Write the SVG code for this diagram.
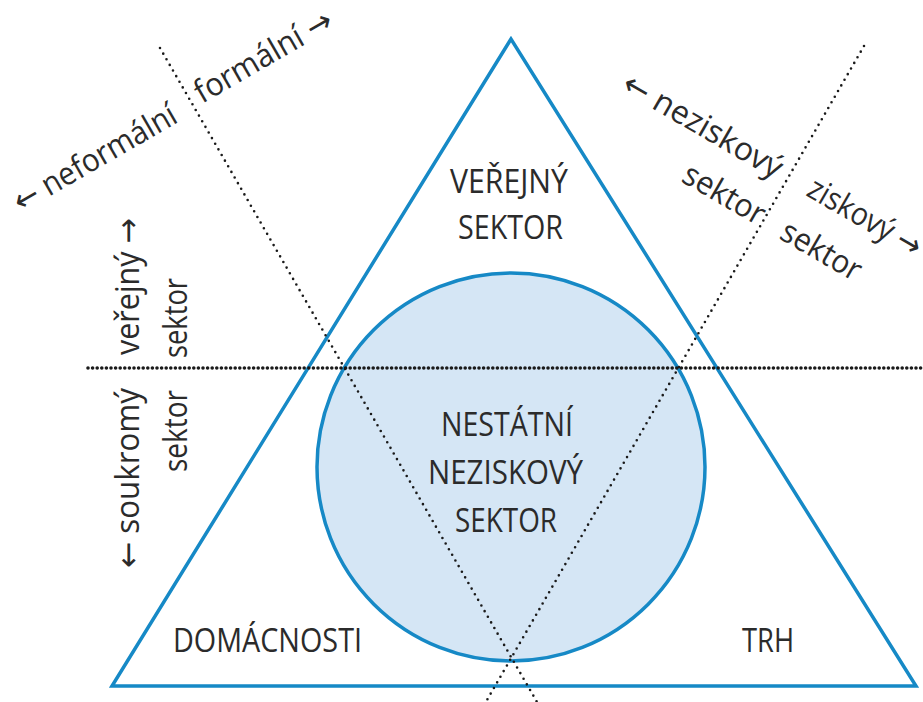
<svg xmlns="http://www.w3.org/2000/svg" width="923" height="702" viewBox="0 0 923 702">
<style>
.caps{font-family:"Open Sans","Liberation Sans",sans-serif;font-size:33px;fill:#2b2b2b}
.lab{font-family:"Open Sans","DejaVu Sans",sans-serif;font-size:32px;fill:#2b2b2b}
.blue{fill:none;stroke:#1689c6;stroke-width:3.5}
.dot{fill:none;stroke:#1a1a1a;stroke-linecap:round}
</style>
<rect width="923" height="702" fill="#fff"/>
<g id="circle-node">
<circle cx="511" cy="467" r="194" fill="#d5e6f5" stroke="#1689c6" stroke-width="3.5"/>
</g>
<g id="triangle">
<path class="blue" d="M511 39 L112 686 L916 686 Z" stroke-linejoin="miter"/>
</g>
<g id="connectors">
<path class="dot" d="M88 368 H923" stroke-width="3.6" stroke-dasharray="0 4.6"/>
<path class="dot" d="M160 48 L537 702" stroke-width="2.6" stroke-dasharray="0 6.5"/>
<path class="dot" d="M864 46 L487 700" stroke-width="2.6" stroke-dasharray="0 6.5"/>
</g>
<g id="verejny-sektor">
<text class="caps" x="450" y="193" textLength="118" lengthAdjust="spacingAndGlyphs">VEŘEJNÝ</text>
<text class="caps" x="458" y="239" textLength="105" lengthAdjust="spacingAndGlyphs">SEKTOR</text>
</g>
<g id="nestatni-neziskovy-sektor">
<text class="caps" x="441" y="436" textLength="132" lengthAdjust="spacingAndGlyphs">NESTÁTNÍ</text>
<text class="caps" x="428" y="484" textLength="155" lengthAdjust="spacingAndGlyphs">NEZISKOVÝ</text>
<text class="caps" x="455" y="532" textLength="102" lengthAdjust="spacingAndGlyphs">SEKTOR</text>
</g>
<g id="domacnosti">
<text class="caps" x="173" y="652" textLength="189" lengthAdjust="spacingAndGlyphs">DOMÁCNOSTI</text>
</g>
<g id="trh">
<text class="caps" x="742" y="652" textLength="52" lengthAdjust="spacingAndGlyphs">TRH</text>
</g>
<g id="labels-formal">
<text class="lab" transform="translate(21,213) rotate(-30)" textLength="183" lengthAdjust="spacingAndGlyphs">← neformální</text>
<text class="lab" transform="translate(202,104) rotate(-30)" textLength="154" lengthAdjust="spacingAndGlyphs">formální →</text>
</g>
<g id="labels-profit">
<text class="lab" transform="translate(620,90) rotate(30)" textLength="179" lengthAdjust="spacingAndGlyphs">← neziskový</text>
<text class="lab" transform="translate(680,181) rotate(30)" textLength="90" lengthAdjust="spacingAndGlyphs">sektor</text>
<text class="lab" transform="translate(805,195) rotate(30)" textLength="126" lengthAdjust="spacingAndGlyphs">ziskový →</text>
<text class="lab" transform="translate(778,238) rotate(30)" textLength="88" lengthAdjust="spacingAndGlyphs">sektor</text>
</g>
<g id="labels-public">
<text class="lab" transform="translate(139,355) rotate(-90)" textLength="137" lengthAdjust="spacingAndGlyphs">veřejný →</text>
<text class="lab" transform="translate(187,358) rotate(-90)" textLength="80" lengthAdjust="spacingAndGlyphs">sektor</text>
<text class="lab" transform="translate(139,568) rotate(-90)" textLength="180" lengthAdjust="spacingAndGlyphs">← soukromý</text>
<text class="lab" transform="translate(187,472) rotate(-90)" textLength="82" lengthAdjust="spacingAndGlyphs">sektor</text>
</g>
</svg>
